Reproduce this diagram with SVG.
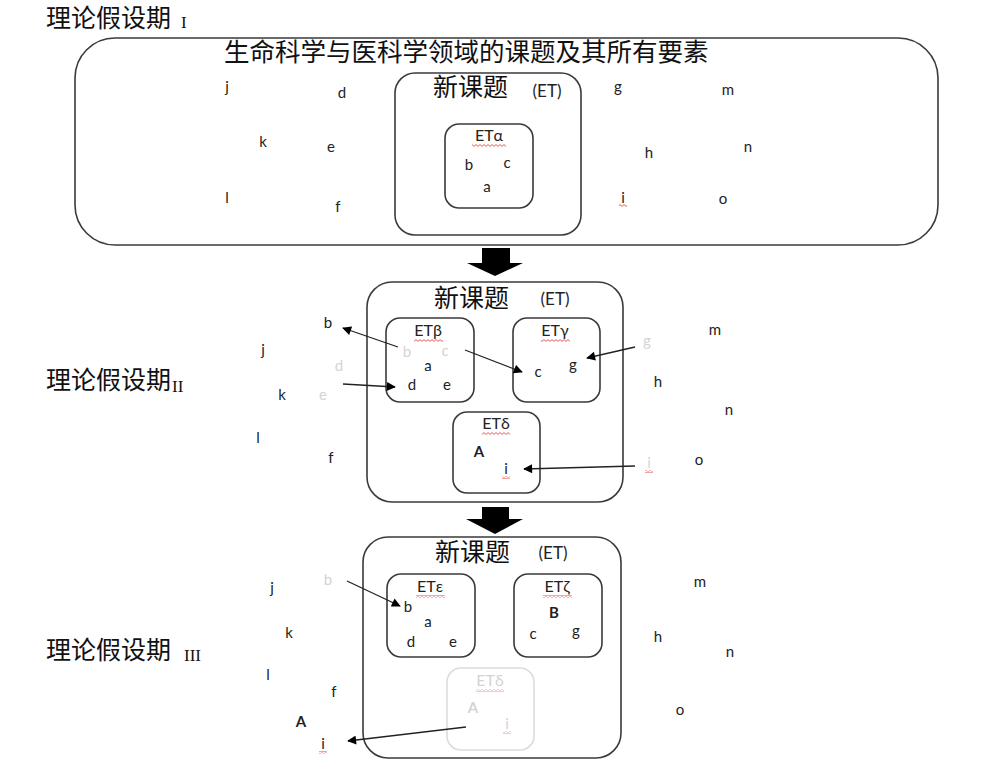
<svg xmlns="http://www.w3.org/2000/svg" width="1006" height="773" viewBox="0 0 1006 773">
<style>
.cjk{font-family:"Noto Sans CJK SC","Noto Sans",sans-serif;fill:#111}
.ser{font-family:"Liberation Serif",serif;fill:#111}
.t{font-family:Lato,"Open Sans",sans-serif;font-size:15px;fill:#222;text-anchor:middle}
.lb{font-size:16px}
.fd{fill:#d4d4d4}
.b{font-weight:bold}
.et{font-family:Lato,"Open Sans",sans-serif;font-size:17px;fill:#222;text-anchor:middle}
.box{fill:none;stroke:#3a3a3a;stroke-width:1.6}
.fbox{fill:none;stroke:#dcdcdc;stroke-width:1.6}
.ar{stroke:#222;stroke-width:1.3;fill:none;marker-end:url(#ah)}
.big{fill:#000}
</style>
<defs>
<marker id="ah" viewBox="0 0 10 10" refX="9" refY="5" markerWidth="10" markerHeight="9" markerUnits="userSpaceOnUse" orient="auto"><path d="M0,0 L10,5 L0,10 Z" fill="#000"/></marker>
<pattern id="wavy" patternUnits="userSpaceOnUse" width="4" height="3"><path d="M0,0.6 L2,2.4 L4,0.6" fill="none" stroke="#e03030" stroke-width="0.8"/></pattern>
</defs>

<!-- Stage I -->
<g id="stage1-label">
<text class="cjk" x="46" y="27" font-size="25">理论假设期</text>
<text class="ser" x="181" y="28" font-size="17">I</text>
</g>
<g id="domain">
<rect class="box" x="75" y="38" width="863" height="207" rx="40"/>
<text class="cjk" x="224" y="61" font-size="25.5">生命科学与医科学领域的课题及其所有要素</text>
<text class="t" x="227" y="92">j</text>
<text class="t" x="342" y="98">d</text>
<text class="t" x="263" y="147">k</text>
<text class="t" x="331" y="152">e</text>
<text class="t" x="227" y="203">l</text>
<text class="t" x="338" y="212">f</text>
<text class="t" x="618" y="92">g</text>
<text class="t" x="728" y="95">m</text>
<text class="t" x="649" y="158">h</text>
<text class="t" x="748" y="152">n</text>
<text class="t" x="623" y="203">i</text>
<rect x="619" y="204" width="8" height="3" fill="url(#wavy)"/>
<text class="t" x="723" y="204">o</text>
</g>
<g id="et1">
<rect class="box" x="395" y="73" width="186" height="162" rx="20"/>
<text class="cjk" x="433" y="96" font-size="25">新课题</text>
<text class="et" x="547" y="97">(ET)</text>
</g>
<g id="et-alpha">
<rect class="box" x="445" y="124" width="88" height="84" rx="14"/>
<text class="t lb" x="489" y="141">ETα</text>
<rect x="472" y="144" width="34" height="3" fill="url(#wavy)"/>
<text class="t" x="469" y="170">b</text>
<text class="t" x="507" y="168">c</text>
<text class="t" x="487" y="192">a</text>
</g>
<g id="step-arrow1">
<polygon class="big" points="482,248 510,248 510,263 523,263 495,276 467,263 482,263"/>
</g>

<!-- Stage II -->
<g id="stage2-label">
<text class="cjk" x="46" y="389" font-size="25">理论假设期</text>
<text class="ser" x="172" y="392" font-size="17">II</text>
</g>
<g id="stage2-outside">
<text class="t" x="328" y="328">b</text>
<text class="t" x="263" y="355">j</text>
<text class="t fd" x="339" y="371">d</text>
<text class="t" x="282" y="400">k</text>
<text class="t fd" x="323" y="400">e</text>
<text class="t" x="258" y="443">l</text>
<text class="t" x="331" y="463">f</text>
<text class="t fd" x="647" y="346">g</text>
<text class="t" x="715" y="335">m</text>
<text class="t" x="658" y="387">h</text>
<text class="t" x="729" y="415">n</text>
<text class="t fd" x="649" y="468">i</text>
<rect x="645" y="470" width="8" height="3" fill="url(#wavy)"/>
<text class="t" x="699" y="465">o</text>
</g>
<g id="et2">
<rect class="box" x="367" y="282" width="256" height="220" rx="25"/>
<text class="cjk" x="434" y="307" font-size="25">新课题</text>
<text class="et" x="555" y="305">(ET)</text>
</g>
<g id="et-beta">
<rect class="box" x="386" y="318" width="88" height="84" rx="14"/>
<text class="t lb" x="428" y="336">ETβ</text>
<rect x="414" y="339" width="29" height="3" fill="url(#wavy)"/>
<text class="t fd" x="407" y="357">b</text>
<text class="t fd" x="445" y="356">c</text>
<text class="t" x="428" y="371">a</text>
<text class="t" x="412" y="390">d</text>
<text class="t" x="447" y="390">e</text>
</g>
<g id="et-gamma">
<rect class="box" x="513" y="318" width="87" height="84" rx="14"/>
<text class="t lb" x="555" y="336">ETγ</text>
<rect x="541" y="339" width="29" height="3" fill="url(#wavy)"/>
<text class="t" x="538" y="377">c</text>
<text class="t" x="573" y="370">g</text>
</g>
<g id="et-delta">
<rect class="box" x="453" y="412" width="87" height="81" rx="14"/>
<text class="t lb" x="496" y="429">ETδ</text>
<rect x="482" y="432" width="28" height="3" fill="url(#wavy)"/>
<text class="t b" x="479" y="457">A</text>
<text class="t" x="506" y="474">i</text>
<rect x="502" y="476" width="8" height="3" fill="url(#wavy)"/>
</g>
<g id="step-arrow2">
<polygon class="big" points="482,507 509,507 509,519 523,519 495,534 466,519 482,519"/>
</g>

<!-- Stage III -->
<g id="stage3-label">
<text class="cjk" x="46" y="659" font-size="25">理论假设期</text>
<text class="ser" x="184" y="661" font-size="17">III</text>
</g>
<g id="stage3-outside">
<text class="t fd" x="328" y="585">b</text>
<text class="t" x="272" y="593">j</text>
<text class="t" x="289" y="638">k</text>
<text class="t" x="268" y="680">l</text>
<text class="t" x="334" y="697">f</text>
<text class="t b" x="301" y="727">A</text>
<text class="t" x="323" y="749">i</text>
<rect x="319" y="751" width="8" height="3" fill="url(#wavy)"/>
<text class="t" x="700" y="587">m</text>
<text class="t" x="658" y="642">h</text>
<text class="t" x="730" y="657">n</text>
<text class="t" x="680" y="715">o</text>
</g>
<g id="et3">
<rect class="box" x="363" y="537" width="258" height="221" rx="25"/>
<text class="cjk" x="435" y="561" font-size="25">新课题</text>
<text class="et" x="553" y="559">(ET)</text>
</g>
<g id="et-epsilon">
<rect class="box" x="387" y="574" width="88" height="83" rx="14"/>
<text class="t lb" x="430" y="592">ETε</text>
<rect x="416" y="595" width="29" height="3" fill="url(#wavy)"/>
<text class="t" x="408" y="612">b</text>
<text class="t" x="428" y="627">a</text>
<text class="t" x="411" y="647">d</text>
<text class="t" x="453" y="647">e</text>
</g>
<g id="et-zeta">
<rect class="box" x="514" y="574" width="88" height="83" rx="14"/>
<text class="t lb" x="557" y="592">ETζ</text>
<rect x="543" y="595" width="29" height="3" fill="url(#wavy)"/>
<text class="t b" x="554" y="618">B</text>
<text class="t" x="533" y="639">c</text>
<text class="t" x="576" y="636">g</text>
</g>
<g id="et-delta-faded">
<rect class="fbox" x="447" y="668" width="87" height="82" rx="14"/>
<text class="t lb fd" x="490" y="686">ETδ</text>
<rect x="476" y="689" width="28" height="3" fill="url(#wavy)" opacity="0.6"/>
<text class="t fd b" x="473" y="713">A</text>
<text class="t fd" x="507" y="729">i</text>
<rect x="503" y="731" width="8" height="3" fill="url(#wavy)" opacity="0.6"/>
</g>

<g id="connectors">
<line class="ar" x1="398" y1="347" x2="343" y2="328"/>
<line class="ar" x1="343" y1="384" x2="395" y2="387"/>
<line class="ar" x1="465" y1="350" x2="522" y2="372"/>
<line class="ar" x1="635" y1="347" x2="587" y2="358"/>
<line class="ar" x1="635" y1="466" x2="524" y2="469"/>
<line class="ar" x1="347" y1="581" x2="400" y2="606"/>
<line class="ar" x1="466" y1="727" x2="348" y2="741"/>
</g>
</svg>
